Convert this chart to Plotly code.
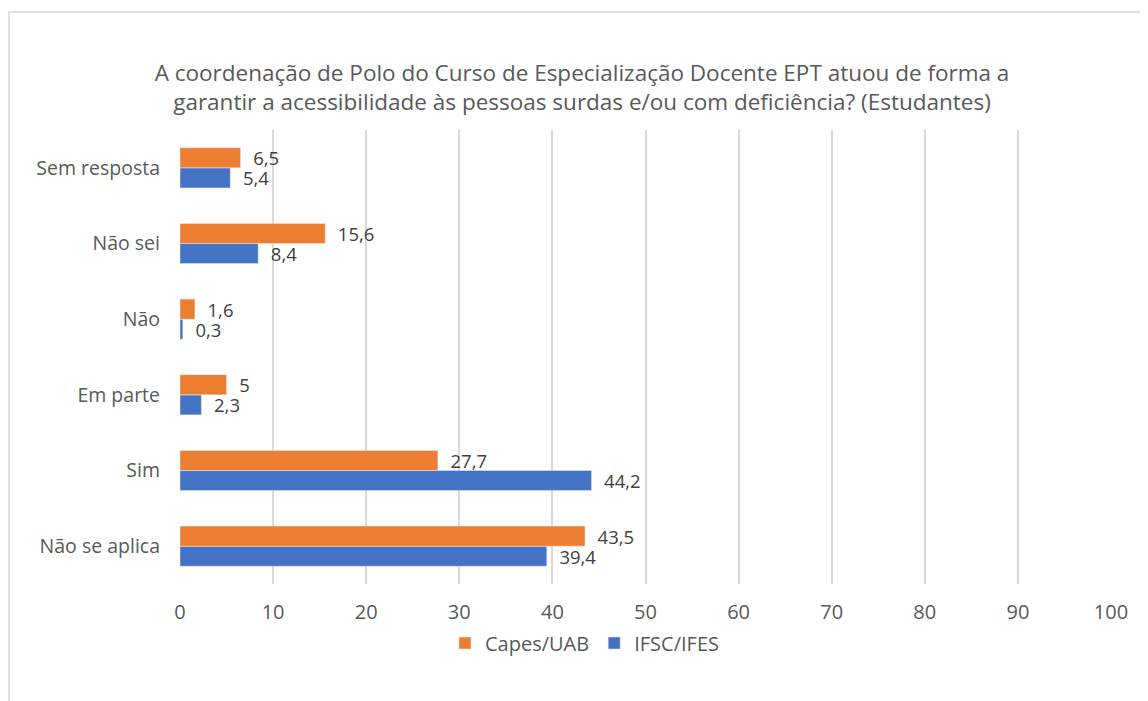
import plotly.graph_objects as go

categories = ["Não se aplica", "Sim", "Em parte", "Não", "Não sei", "Sem resposta"]
capes_uab = [43.5, 27.7, 5, 1.6, 15.6, 6.5]
ifsc_ifes = [39.4, 44.2, 2.3, 0.3, 8.4, 5.4]
x_ticks = list(range(0, 101, 10))

title_text = ("A coordenação de Polo do Curso de Especialização Docente EPT atuou de forma a<br>"
              "garantir a acessibilidade às pessoas surdas e/ou com deficiência? (Estudantes)")

def fmt(v):
    return "  " + ("%g" % v).replace(".", ",")

FONT = "Open Sans"
LBL = dict(size=18.5, color="#404040", family=FONT)

fig = go.Figure()
fig.add_trace(go.Bar(
    y=categories, x=ifsc_ifes, orientation="h", name="IFSC/IFES",
    marker=dict(color="#4472C4"), text=[fmt(v) for v in ifsc_ifes],
    textposition="outside", textfont=LBL, constraintext="none",
    cliponaxis=False, legendrank=2,
))
fig.add_trace(go.Bar(
    y=categories, x=capes_uab, orientation="h", name="Capes/UAB",
    marker=dict(color="#ED7D31"), text=[fmt(v) for v in capes_uab],
    textposition="outside", textfont=LBL, constraintext="none",
    cliponaxis=False, legendrank=1,
))

# page has an 8px body margin: plot area aimed at page x 180..1111, y 130..584
fig.update_layout(
    width=1148, height=701,
    margin=dict(l=172, r=45, t=122, b=125),
    paper_bgcolor="white", plot_bgcolor="white",
    barmode="group", bargap=0.47, bargroupgap=0,
    font=dict(family=FONT, color="#595959", size=19),
    title=dict(text=title_text, x=0.5, xanchor="center", y=0.896, yanchor="middle",
               font=dict(size=22.5, color="#595959", family=FONT)),
    xaxis=dict(range=[0, 100], tickvals=x_ticks, showgrid=True, gridcolor="#d9d9d9",
               gridwidth=1.5, zeroline=False, showline=False, ticks="",
               ticklabelstandoff=14, tickfont=dict(size=20, color="#595959"), fixedrange=True),
    yaxis=dict(showgrid=False, showline=False, ticks="", ticklabelstandoff=19,
               tickfont=dict(size=19.5, color="#595959")),
    legend=dict(orientation="h", x=0.435, xanchor="center", y=-0.13, yanchor="middle",
                font=dict(size=20, color="#595959"), itemwidth=30),
    shapes=[dict(type="rect", xref="paper", yref="paper",
                 x0=(9 - 180) / 931, x1=(1160 - 180) / 931,
                 y0=(584 - 715) / 454, y1=(584 - 12) / 454,
                 line=dict(color="#d9d9d9", width=1.5), fillcolor="rgba(0,0,0,0)", layer="below")],
)

fig.write_html("out.html")
